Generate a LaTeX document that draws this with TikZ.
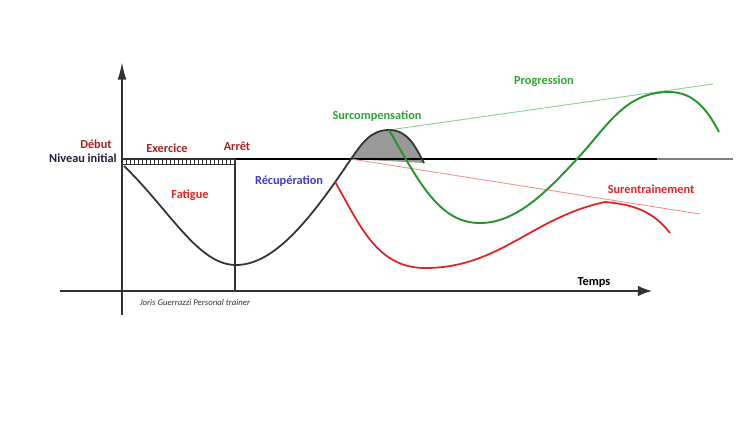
\documentclass[tikz,border=0pt]{standalone}
\usepackage{fontspec}
\setmainfont{Carlito}
\usetikzlibrary{arrows.meta}
\definecolor{cdark}{RGB}{50,50,50}
\definecolor{cred}{RGB}{225,35,35}
\definecolor{cwine}{RGB}{160,35,35}
\definecolor{cgreen}{RGB}{45,165,50}
\definecolor{cblue}{RGB}{60,60,200}
\definecolor{cnavy}{RGB}{30,30,55}
\tikzset{surco/.style={x=0.02cm,y=0.02cm,font=\bfseries\fontsize{7}{8}\selectfont},
  lbl/.style={inner sep=0pt}}

\begin{document}
\begin{tikzpicture}[surco]
    \useasboundingbox (0,0) rectangle (750,420);
    \def\base{261}
    \coordinate (yb) at (122,105);  \coordinate (yt) at (122,358);
    \coordinate (xl) at (60,129);   \coordinate (xr) at (652,129);
    \coordinate (b0) at (122,\base); \coordinate (b1) at (733,\base);
    \coordinate (bk) at (657,\base);
    \coordinate (stop) at (235,\base); \coordinate (stopx) at (235,129);
    \coordinate (s0) at (124,254);  \coordinate (lo) at (236,155);
    \coordinate (cr) at (351,\base); \coordinate (pk) at (389,290);
    \coordinate (he) at (424,257);
    \coordinate (gmin) at (480,197); \coordinate (gx) at (577,\base);
    \coordinate (gpk) at (669,328); \coordinate (gend) at (719,288);
    \coordinate (rmin) at (425,152); \coordinate (rpk) at (605,218);
    \coordinate (rend) at (670,187);
    \coordinate (gl) at (713,336);  \coordinate (rl) at (700,206);
    % surcompensation hump
    \fill[black!40] (cr) to[out=55,in=180] (pk) to[out=0,in=118] (he) -- cycle;
    % axes
    \draw[cdark,line width=0.9pt,-{Latex[length=10pt,width=5pt]}] (yb) -- (yt);
    \draw[cdark,line width=0.9pt,-{Latex[length=8pt,width=6pt]}] (xl) -- (xr);
    \draw[black,line width=1.3pt] (b0) -- (bk);
    \draw[black!50,line width=1.3pt] (bk) -- (b1);
    \draw[cdark,line width=0.8pt] (stop) -- (stopx);
    \draw[cdark,line width=0.6pt] (122,255.5) rectangle (235,\base);
    \foreach \x in {126,130,...,234} \draw[cdark,line width=0.5pt] (\x,255.5) -- (\x,\base);
    % trend lines
    \draw[cgreen!55,line width=0.5pt] (pk) -- (gl);
    \draw[cred!50,line width=0.5pt] (cr) -- (rl);
    % curves
    \draw[cdark,line width=1pt] (s0) to[out=-44,in=180,out looseness=1.1,in looseness=0.65] (lo)
        to[out=0,in=236,out looseness=0.65,in looseness=1.1] coordinate[pos=0.86] (rs) (cr)
        to[out=55,in=180] (pk) to[out=0,in=118] (he);
    \draw[cred,line width=1pt] (rs) to[out=-60,in=180] (rmin)
        to[out=0,in=192] (rpk) to[out=-5,in=128] (rend);
    \draw[cgreen!90!black,line width=1.1pt] (pk) to[out=-60,in=180,out looseness=1.2,in looseness=0.8] (gmin)
        to[out=0,in=227,out looseness=0.8] (gx) to[out=47,in=180] (gpk) to[out=0,in=118] (gend);
    % labels
    \node[lbl,cwine] (debut) at (96,276) {Début};
    \node[lbl,cnavy,anchor=east] (niveau) at (117,262) {Niveau initial};
    \node[lbl,cwine] (exo) at (167,272) {Exercice};
    \node[lbl,cwine] (arret) at (237,274) {Arrêt};
    \node[lbl,cred] (fatigue) at (190,225) {Fatigue};
    \node[lbl,cblue] (recup) at (289,239) {Récupération};
    \node[lbl,cgreen] (surcomp) at (377,304) {Surcompensation};
    \node[lbl,cgreen] (progres) at (544,339) {Progression};
    \node[lbl,cred] (surent) at (651,231) {Surentrainement};
    \node[lbl,black] (temps) at (594,138) {Temps};
    \node[lbl,cdark,font=\itshape\fontsize{5}{6}\selectfont] (signe) at (195,118) {Joris Guerrazzi Personal trainer};
\end{tikzpicture}
\end{document}
